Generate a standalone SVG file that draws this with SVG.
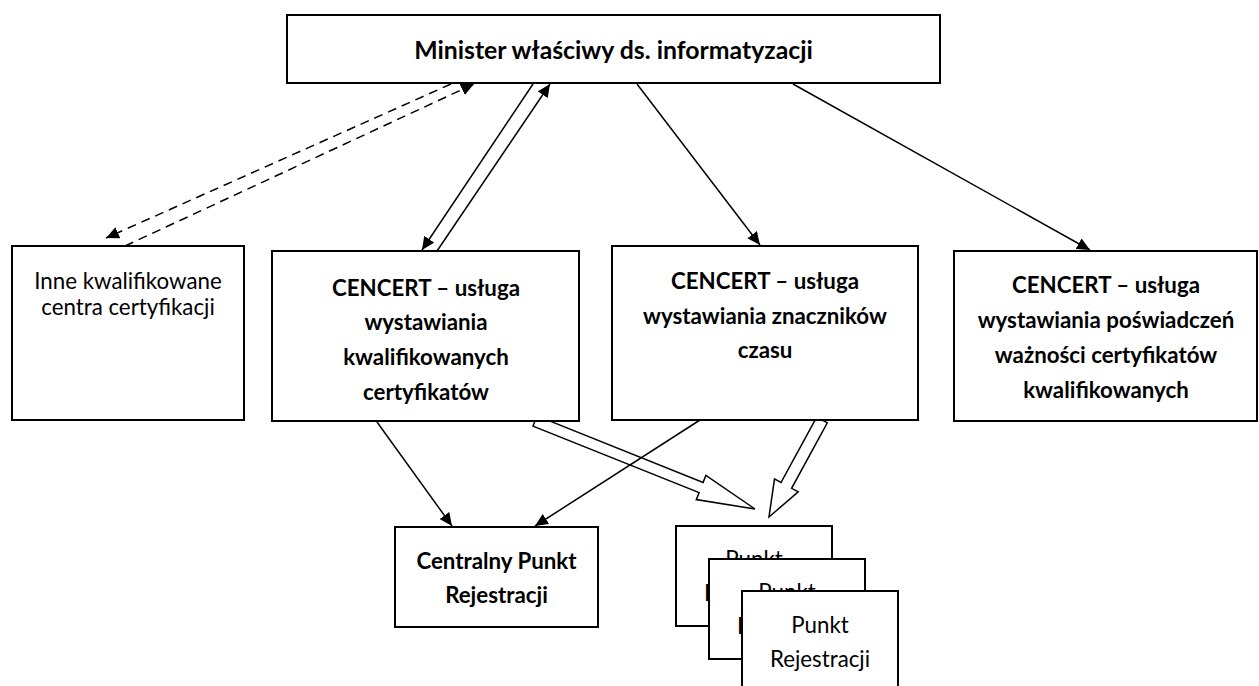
<svg xmlns="http://www.w3.org/2000/svg" width="1259" height="686" viewBox="0 0 1259 686">
<defs>
<marker id="ah" markerUnits="userSpaceOnUse" markerWidth="14" markerHeight="12" refX="13" refY="6" orient="auto">
<path d="M0,0 L13,6 L0,12 z" fill="#000"/>
</marker>
<style>
.box{fill:#fff;stroke:#000;stroke-width:2}
.ln{fill:none;stroke:#000;stroke-width:1.5;marker-end:url(#ah)}
.dash{stroke-dasharray:9,6}
.blk{fill:#fff;stroke:#000;stroke-width:1.5;stroke-linejoin:miter}
text{font-family:Lato,"Liberation Sans",sans-serif;fill:#000;text-anchor:middle}
.b{font-weight:bold;font-size:22.3px}
.r{font-size:22.3px}
.t{font-weight:bold;font-size:24.8px}
</style>
</defs>
<rect width="1259" height="686" fill="#fff"/>
<g id="connectors">
<polygon class="blk" points="537,415.9 703.1,482.4 705.9,475.4 755,509 696.3,499.6 699.1,492.6 533,426.1"/>
<polygon class="blk" points="816.7,417.1 781,482.5 774.5,478.9 769,517 798.2,491.9 791.6,488.3 827.3,422.9"/>
<line class="ln dash" x1="451" y1="84" x2="106" y2="238"/>
<line class="ln dash" x1="125" y1="246" x2="474" y2="84"/>
<line class="ln" x1="533" y1="84" x2="422" y2="250"/>
<line class="ln" x1="437" y1="251" x2="550" y2="84"/>
<line class="ln" x1="637" y1="84" x2="760" y2="245"/>
<line class="ln" x1="793" y1="84" x2="1090" y2="250"/>
<line class="ln" x1="377" y1="422" x2="452" y2="526"/>
<line class="ln" x1="700" y1="420" x2="535" y2="526"/>
</g>
<g id="minister">
<rect class="box" x="287" y="15" width="653" height="68"/>
<text class="t" x="613.5" y="59">Minister właściwy ds. informatyzacji</text>
</g>
<g id="inne">
<rect class="box" x="12" y="246" width="232" height="174"/>
<text class="r" x="128" y="289">Inne kwalifikowane</text>
<text class="r" x="128" y="315">centra certyfikacji</text>
</g>
<g id="cencert1">
<rect class="box" x="272" y="251" width="307" height="170"/>
<text class="b" x="426" y="296">CENCERT – usługa</text>
<text class="b" x="426" y="330">wystawiania</text>
<text class="b" x="426" y="365">kwalifikowanych</text>
<text class="b" x="426" y="400">certyfikatów</text>
</g>
<g id="cencert2">
<rect class="box" x="612" y="246" width="306" height="174"/>
<text class="b" x="765" y="289">CENCERT – usługa</text>
<text class="b" x="765" y="324">wystawiania znaczników</text>
<text class="b" x="765" y="358">czasu</text>
</g>
<g id="cencert3">
<rect class="box" x="954" y="251" width="303" height="170"/>
<text class="b" x="1106" y="293">CENCERT – usługa</text>
<text class="b" x="1106" y="328">wystawiania poświadczeń</text>
<text class="b" x="1106" y="363">ważności certyfikatów</text>
<text class="b" x="1106" y="398">kwalifikowanych</text>
</g>
<g id="cpr">
<rect class="box" x="395" y="527" width="203" height="100"/>
<text class="b" x="496.5" y="569">Centralny Punkt</text>
<text class="b" x="496.5" y="603">Rejestracji</text>
</g>
<g id="pr1">
<rect class="box" x="676" y="526" width="156" height="100"/>
<text class="r" x="754" y="567">Punkt</text>
<text class="r" x="754" y="601">Rejestracji</text>
</g>
<g id="pr2">
<rect class="box" x="709" y="559" width="156" height="100"/>
<text class="r" x="787" y="600">Punkt</text>
<text class="r" x="787" y="634">Rejestracji</text>
</g>
<g id="pr3">
<rect class="box" x="742" y="591" width="156" height="110"/>
<text class="r" x="820" y="633">Punkt</text>
<text class="r" x="820" y="667">Rejestracji</text>
</g>
</svg>
